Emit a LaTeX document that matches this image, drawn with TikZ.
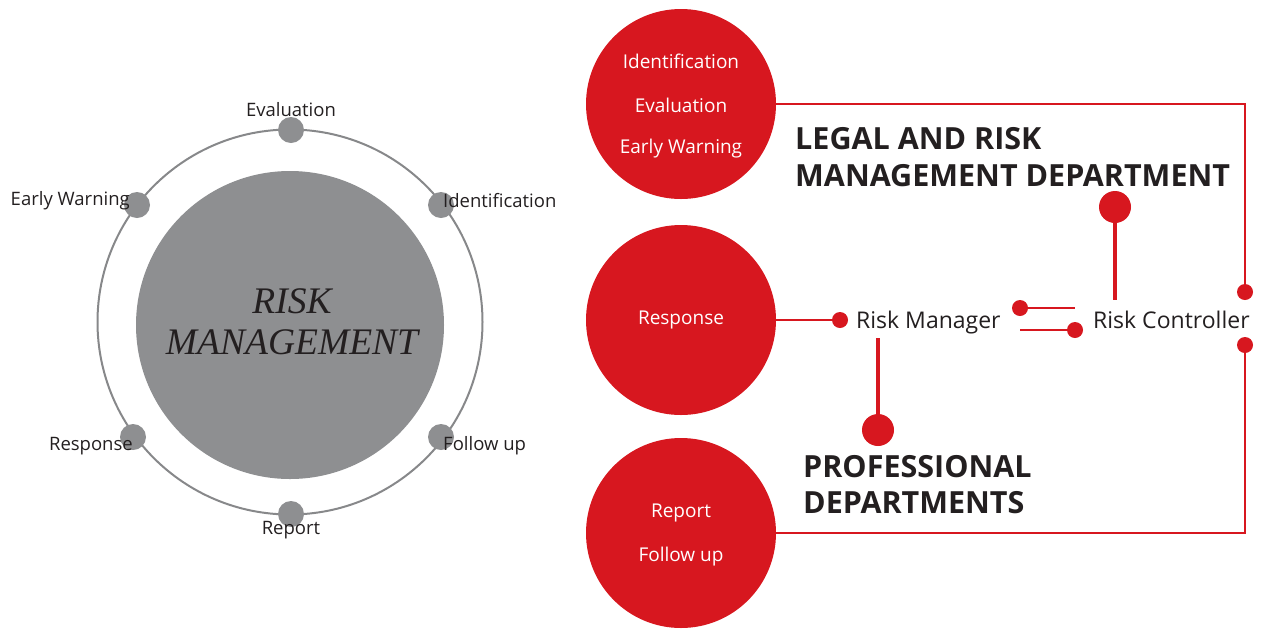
\documentclass[tikz,border=0pt]{standalone}
\usepackage{fontspec}
\setmainfont{Open Sans}
\newfontfamily\rmserif{Liberation Serif}
\definecolor{rred}{HTML}{D7171F}
\definecolor{cgray}{HTML}{8E8F91}
\definecolor{ink}{HTML}{231F20}
\begin{document}
\begin{tikzpicture}[x=1pt,y=-1pt,
  redball/.style={circle,fill=rred,inner sep=0pt,minimum size=190pt},
  graydot/.style={circle,fill=cgray,inner sep=0pt,minimum size=26pt},
  sdot/.style={circle,fill=rred,inner sep=0pt,minimum size=16pt},
  bdot/.style={circle,fill=rred,inner sep=0pt,minimum size=32pt},
  wlab/.style={text=white,font=\fontsize{19}{22}\selectfont,inner sep=0pt},
  glab/.style={text=ink,font=\fontsize{18.5}{22}\selectfont,inner sep=0pt},
  rlab/.style={text=ink,font=\fontsize{23}{28}\selectfont,inner sep=0pt,anchor=base west},
  head/.style={text=ink,font=\fontsize{30.5}{37}\selectfont\bfseries,inner sep=0pt,anchor=base west},
  rmtxt/.style={text=ink,font=\fontsize{37.5}{43}\selectfont\rmserif\itshape,inner sep=0pt,anchor=base},
  rline/.style={draw=rred,line width=2.2pt},
  stem/.style={draw=rred,line width=4pt}
]
\useasboundingbox (0,0) rectangle (1267,633);
% ---- left diagram ----
\node[circle,draw=cgray!95!black,line width=2pt,minimum size=385pt,inner sep=0pt] (ring) at (290,322) {};
\node[circle,fill=cgray,minimum size=308pt,inner sep=0pt] (core) at (290,325) {};
\node[rmtxt] (rm1) at (292,313) {RISK};
\node[rmtxt] (rm2) at (292,354) {MANAGEMENT};
\node[graydot] (dEval) at (291,130) {};
\node[graydot] (dIdent) at (441,205) {};
\node[graydot] (dFoll) at (441,437) {};
\node[graydot] (dRep) at (291,514) {};
\node[graydot] (dResp) at (133,437) {};
\node[graydot] (dEarly) at (137,205) {};
\node[glab] (lEval) at (291,110) {Evaluation};
\node[glab,anchor=west] (lIdent) at (443,201) {Identification};
\node[glab,anchor=east] (lEarly) at (130,201) {Early Warning};
\node[glab,anchor=east] (lResp) at (133,446) {Response};
\node[glab,anchor=west] (lFoll) at (443,446) {Follow up};
\node[glab] (lRep) at (291,530) {Report};
% ---- right diagram ----
\node[redball] (cTop) at (681,104) {};
\node[redball] (cMid) at (681,320) {};
\node[redball] (cBot) at (681,533) {};
\node[wlab] at (681,61) {Identification};
\node[wlab] at (681,105) {Evaluation};
\node[wlab] at (681,149) {Early Warning};
\node[wlab] at (681,320) {Response};
\node[wlab] at (681,513) {Report};
\node[wlab] at (681,557) {Follow up};
\node[rlab] (rman) at (856,328) {Risk Manager};
\node[rlab] (rcon) at (1093,328) {Risk Controller};
\node[head] (legal1) at (795,149) {LEGAL AND RISK};
\node[head] (legal2) at (795,186) {MANAGEMENT DEPARTMENT};
\node[head] (prof1) at (803,477) {PROFESSIONAL};
\node[head] (prof2) at (803,513) {DEPARTMENTS};
\node[sdot] (dTopR) at (1245,292) {};
\node[sdot] (dBotR) at (1245,345) {};
\node[sdot] (dMan) at (840,320) {};
\node[bdot] (dLegal) at (1115,207) {};
\node[bdot] (dProf) at (878,430) {};
\node[sdot] (dA) at (1020,308) {};
\node[sdot] (dB) at (1075,330) {};
\coordinate (eA) at (1075,308);
\coordinate (eB) at (1020,330);
\coordinate (sLegal) at (1115,300);
\coordinate (sProf) at (878,338);
\draw[rline] (cTop.east) -| (dTopR);
\draw[rline] (cBot.east) -| (dBotR);
\draw[rline] (cMid.east) -- (dMan);
\draw[rline] (dA) -- (eA);
\draw[rline] (eB) -- (dB);
\draw[stem] (dLegal) -- (sLegal);
\draw[stem] (sProf) -- (dProf);
\end{tikzpicture}
\end{document}
